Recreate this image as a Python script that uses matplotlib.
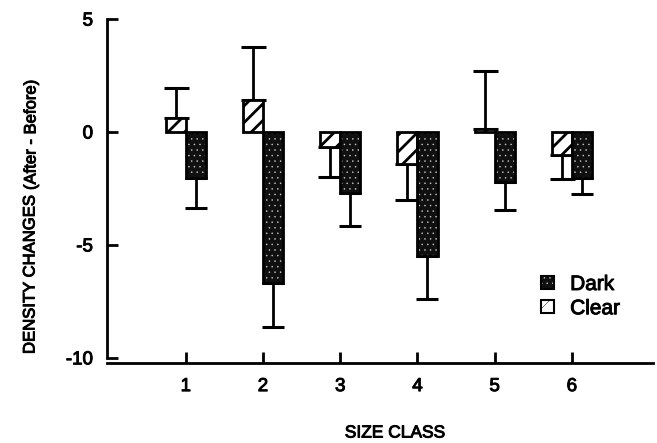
import matplotlib.pyplot as plt
import matplotlib.patheffects as pe
from matplotlib.patches import Patch
from matplotlib.legend_handler import HandlerTuple
import numpy as np

plt.rcParams['font.family'] = ['Liberation Sans', 'DejaVu Sans']

size_class = [1, 2, 3, 4, 5, 6]
clear_mean = [0.6, 1.4, -0.65, -1.4, 0.12, -1.0]
clear_err = [1.35, 2.35, 1.35, 1.6, 2.6, 1.1]
dark_mean = [-2.05, -6.7, -2.7, -5.5, -2.2, -2.05]
dark_err = [1.3, 1.95, 1.45, 1.9, 1.25, 0.7]

# slightly heavier text, like the scanned original
thick = [pe.withStroke(linewidth=0.7, foreground='black')]

fig = plt.figure(figsize=(6.57, 4.43), dpi=100)
ax = fig.add_axes([107 / 657, 0.181, 546 / 657, 0.776])

x = np.array(size_class)
w = 0.26

# error bars only on the outside of each bar
clear_lo = [e if m < 0 else 0 for m, e in zip(clear_mean, clear_err)]
clear_hi = [e if m >= 0 else 0 for m, e in zip(clear_mean, clear_err)]
ax.errorbar(x - w / 2, clear_mean, yerr=[clear_lo, clear_hi], fmt='none',
            ecolor='black', elinewidth=2, capsize=9, capthick=2.2, zorder=1)
ax.errorbar(x + w / 2, dark_mean, yerr=[dark_err, [0] * 6], fmt='none',
            ecolor='black', elinewidth=2, capsize=8, capthick=2.2, zorder=1)

# clear bars: white with diagonal hatch
plt.rcParams['hatch.linewidth'] = 2.0
ax.bar(x - w / 2, clear_mean, w, color='white', edgecolor='black',
       hatch='//', linewidth=2, zorder=2)
h_clear = Patch(facecolor='white', edgecolor='black', hatch='//', linewidth=1.5)

# dark bars: near-black fill with small light dots, black outline
plt.rcParams['hatch.linewidth'] = 0.3
ax.bar(x + w / 2, dark_mean, w, color='#101010', edgecolor='#d0d0d0',
       hatch='...', linewidth=0, zorder=2)
ax.bar(x + w / 2, dark_mean, w, fill=False, edgecolor='black',
       linewidth=2, zorder=3)
h_dark = (Patch(facecolor='#101010', edgecolor='#d0d0d0', hatch='...',
                linewidth=0),
          Patch(fill=False, edgecolor='black', linewidth=1.5))

ax.set_xlim(-0.02, 7.05)
ax.set_ylim(-10.22, 5)
ax.spines['left'].set_bounds(-10, 5)
ax.set_xticks(size_class)
ax.set_yticks([5, 0, -5, -10])
ax.set_yticklabels(['5', '0', '-5', '-10'])
ax.tick_params(direction='in', length=8, width=2, labelsize=13.5, pad=10)
ax.tick_params(axis='x', pad=11)
for lab in ax.get_xticklabels() + ax.get_yticklabels():
    lab.set_path_effects(thick)
for s in ['top', 'right']:
    ax.spines[s].set_visible(False)
for s in ['left', 'bottom']:
    ax.spines[s].set_linewidth(2)

fig.text(395 / 657, 1 - 433 / 443, 'SIZE CLASS', fontsize=12.5, ha='center',
         va='center', path_effects=thick)
fig.text(30 / 657, 1 - 354 / 443, 'DENSITY CHANGES', rotation=90,
         fontsize=12, ha='center', va='bottom', path_effects=thick)
fig.text(31 / 657, 1 - 190 / 443, '(After - Before)', rotation=90,
         fontsize=12, ha='center', va='bottom', path_effects=thick)

# legend
leg = ax.legend([h_dark, h_clear], ['Dark', 'Clear'], loc='upper left',
                bbox_to_anchor=(541 / 657, 1 - 275 / 443),
                bbox_transform=fig.transFigure, frameon=False, fontsize=15,
                handlelength=0.6, handleheight=0.6, handletextpad=0.8,
                labelspacing=0.25, borderpad=0, borderaxespad=0,
                handler_map={tuple: HandlerTuple(ndivide=1, pad=0)})
for t in leg.get_texts():
    t.set_path_effects(thick)

plt.savefig('out.png', dpi=100)
